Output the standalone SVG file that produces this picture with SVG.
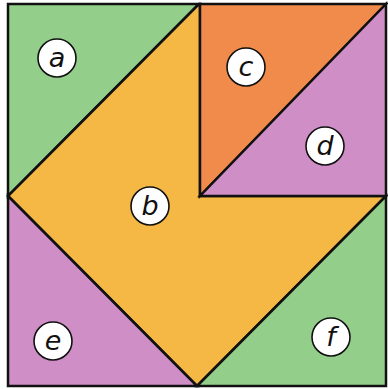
<svg xmlns="http://www.w3.org/2000/svg" width="388" height="389" viewBox="0 0 388 389">
<style>
.p{stroke:#111;stroke-width:2.5;stroke-linejoin:miter}
.g{fill:#93cf8a}.y{fill:#f6b845}.o{fill:#f18b4b}.k{fill:#cf8ec6}
.c{fill:#fff;stroke:#111;stroke-width:1.6}
.t{font-family:"DejaVu Sans",sans-serif;font-size:27px;fill:#111;text-anchor:middle;font-style:italic}
</style>
<rect width="388" height="389" fill="#fff"/>
<g id="a"><polygon class="p g" points="8,4 199,4 8,196"/><circle class="c" cx="57" cy="58" r="19"/><text class="t" x="57" y="67">a</text></g>
<g id="b"><polygon class="p y" points="199,4 200,4 200,196 386,196 197,386 8,196"/><circle class="c" cx="150" cy="206" r="19"/><text class="t" x="150" y="215">b</text></g>
<g id="c"><polygon class="p o" points="200,4 386,4 200,196"/><circle class="c" cx="246" cy="67" r="19"/><text class="t" x="246" y="76">c</text></g>
<g id="d"><polygon class="p k" points="386,4 386,196 200,196"/><circle class="c" cx="325" cy="146" r="19"/><text class="t" x="325" y="155">d</text></g>
<g id="e"><polygon class="p k" points="8,196 197,386 8,386"/><circle class="c" cx="53" cy="341" r="19"/><text class="t" x="53" y="350">e</text></g>
<g id="f"><polygon class="p g" points="386,196 386,386 197,386"/><circle class="c" cx="331" cy="337" r="19"/><text class="t" x="331" y="346">f</text></g>
<g id="connectors"/>
</svg>
